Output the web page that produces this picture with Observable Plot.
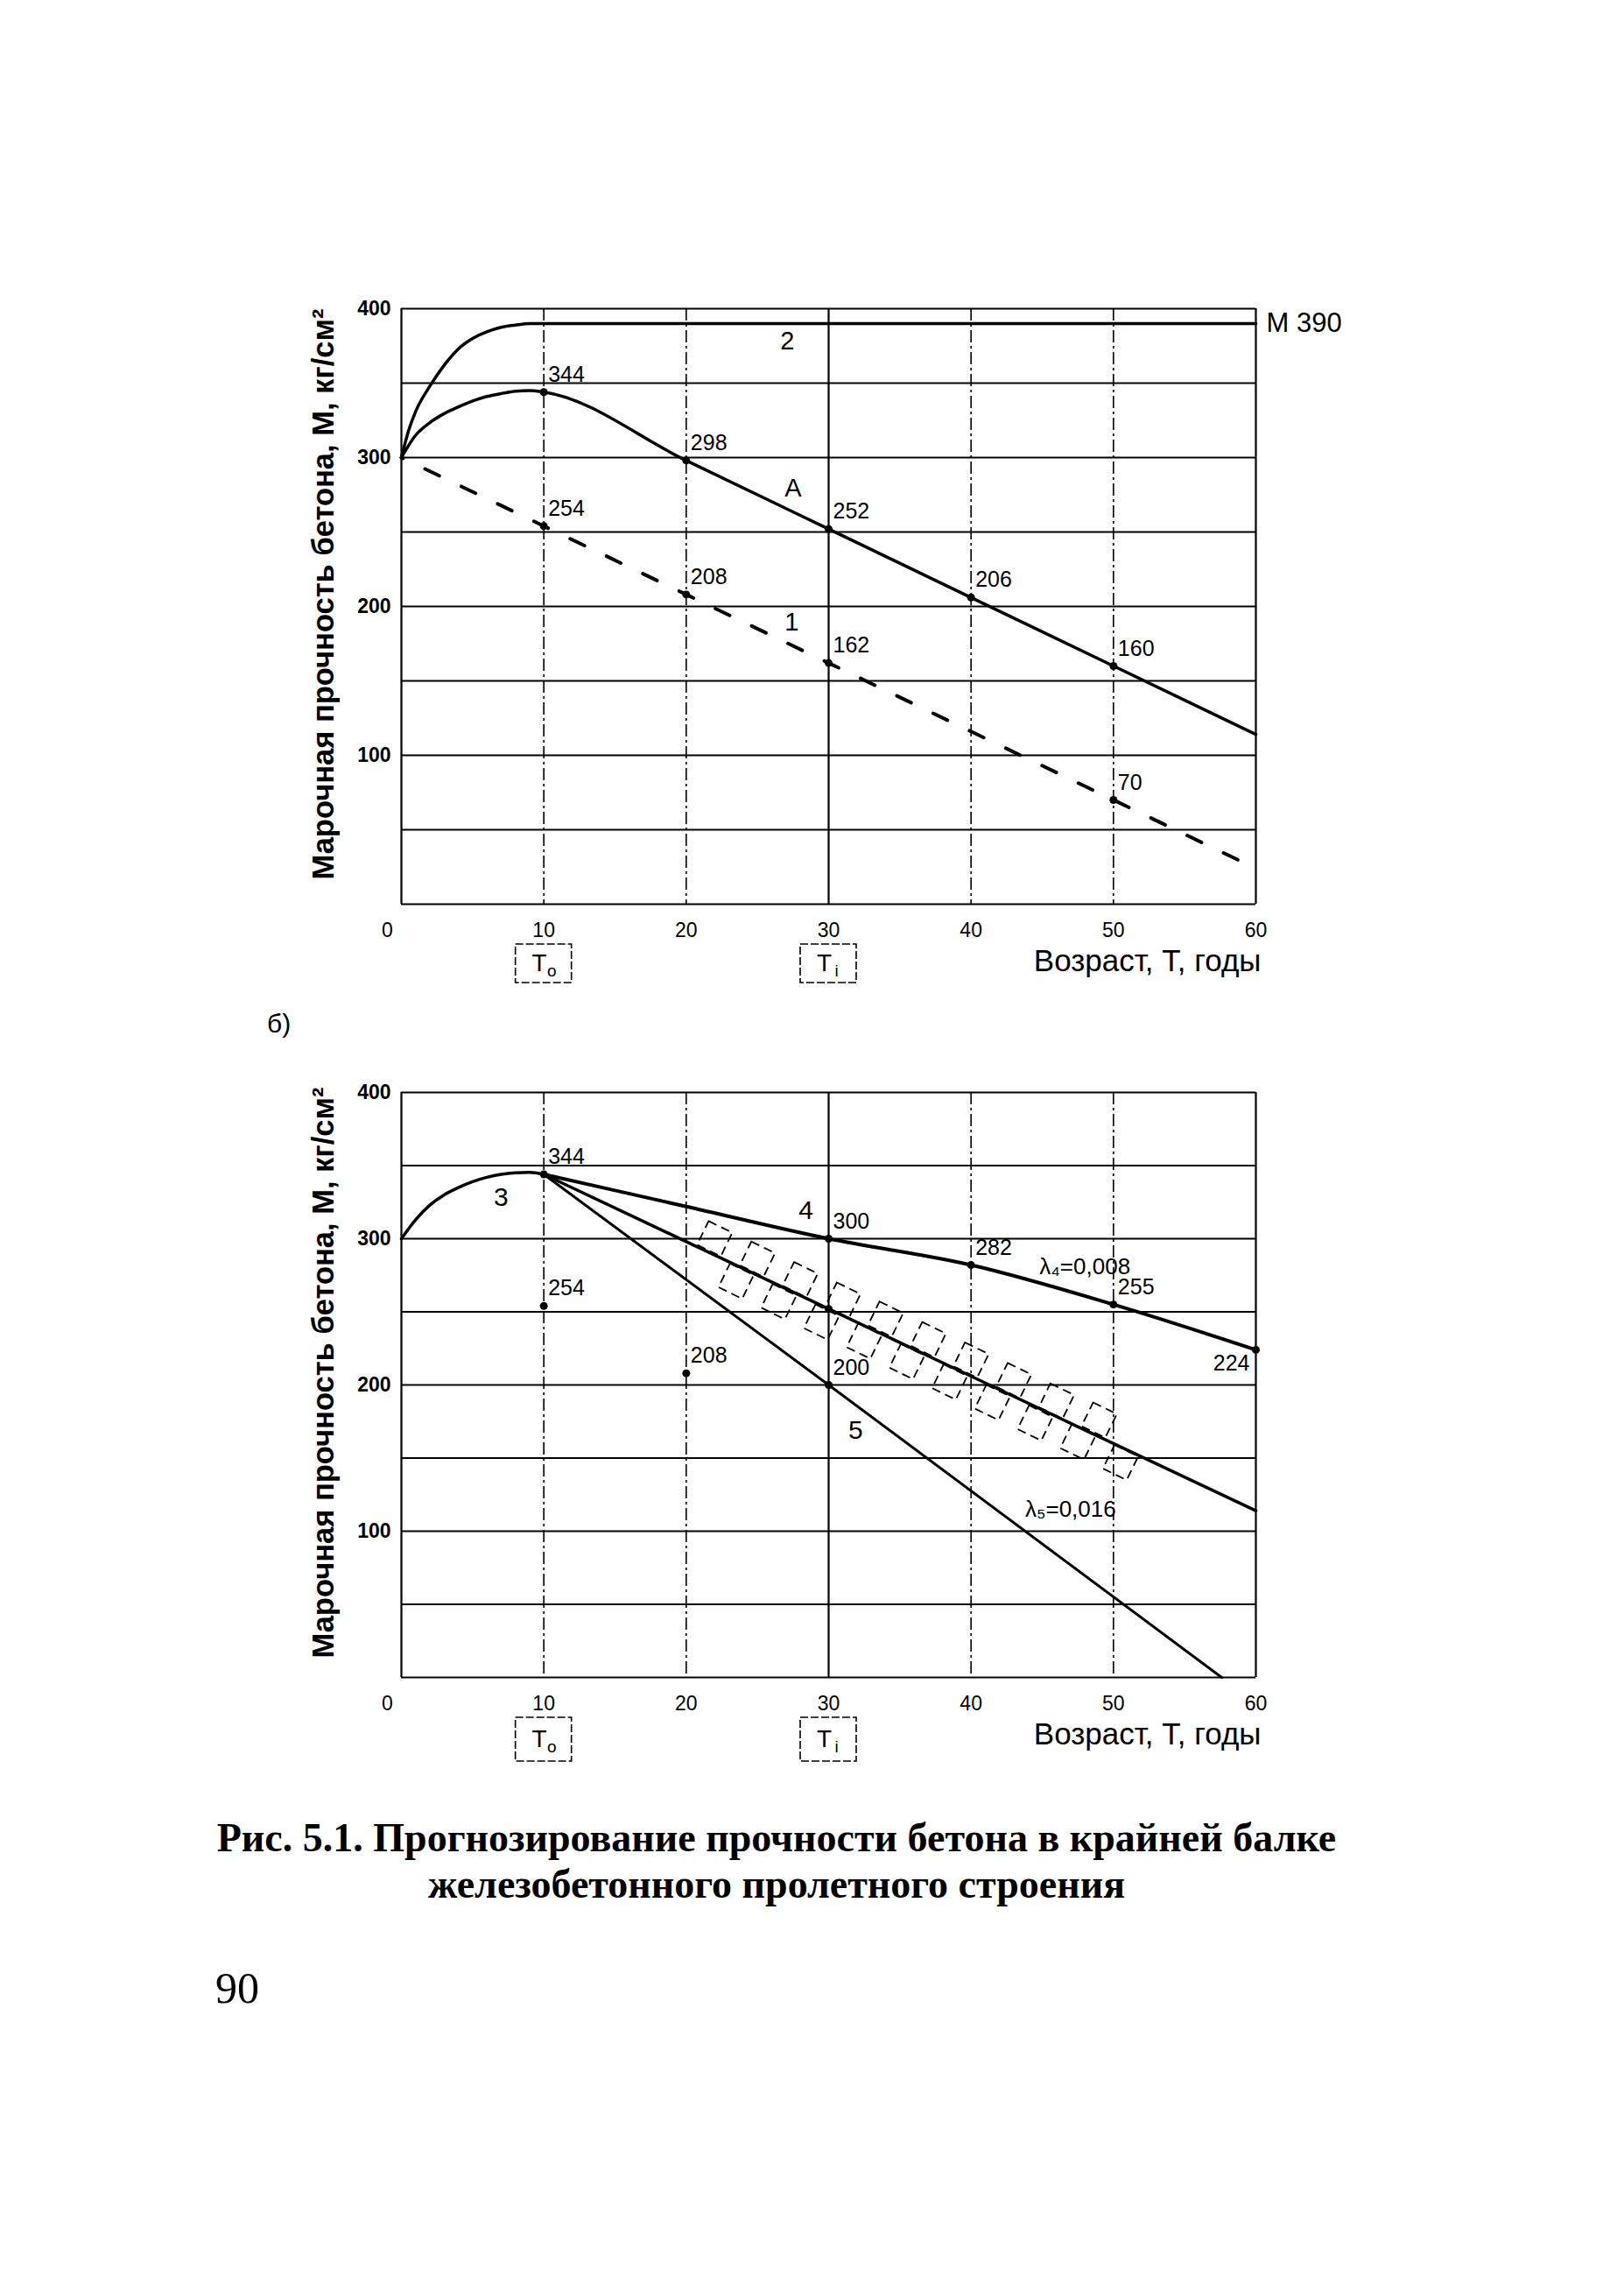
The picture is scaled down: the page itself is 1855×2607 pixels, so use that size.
<!DOCTYPE html>
<html>
<head>
<meta charset="utf-8">
<script src="https://cdn.jsdelivr.net/npm/d3@7"></script>
<script src="https://cdn.jsdelivr.net/npm/@observablehq/plot@0.6"></script>
<style>
  html, body { margin: 0; padding: 0; background: #fff; }
  #page { position: relative; width: 1855px; height: 2607px; background: #fff; overflow: hidden;
          font-family: "Liberation Sans", Arial, sans-serif; color: #000; }
  .abs { position: absolute; }
  #chartA { left: 250px; top: 300px; }
  #chartB { left: 250px; top: 1200px; }
  #subB { left: 305px; top: 1154px; font-size: 30px; line-height: 30px; }
  #caption { left: 0; width: 1774px; top: 2072px; text-align: center;
             font-family: "Liberation Serif", "Times New Roman", serif; font-weight: bold;
             font-size: 46px; line-height: 53px; }
  #pageNo { left: 246px; top: 2245px; font-family: "Liberation Serif", "Times New Roman", serif;
            font-size: 50px; line-height: 50px; }
</style>
</head>
<body>
<div id="page">
  <div id="chartA" class="abs"></div>
  <div id="subB" class="abs">б)</div>
  <div id="chartB" class="abs"></div>
  <div id="caption" class="abs">Рис. 5.1. Прогнозирование прочности бетона в крайней балке<br>железобетонного пролетного строения</div>
  <div id="pageNo" class="abs">90</div>
</div>
<script>
// ---------- shared axes / grid ----------
const yearTicks = [10, 20, 30, 40, 50, 60];
const originTick = [0];
const strengthTicks = [100, 200, 300, 400];
const gridM = [0, 50, 100, 150, 200, 250, 300, 350, 400];
const dashedYears = [10, 20, 40, 50];
const solidYears = [0, 30, 60];
const yTitle = "Марочная прочность бетона, М, кг/см²";
const xTitle = "Возраст, Т, годы";
const tBoxYears = [10, 30];
const tBoxSubs = ["о", "i"];

// ---------- chart а (top) ----------
const c2T = [0, 0.5, 1, 2, 3, 4, 5, 6, 7, 8, 9, 10, 60];
const c2M = [300, 318, 331, 348, 362, 373, 380, 384.5, 387.5, 389, 390, 390, 390];
const cAT = [0, 1, 2, 3, 4, 5, 6, 7, 8, 9, 10, 20, 30, 40, 50, 60];
const cAM = [300, 315, 323.5, 329.5, 334, 338, 341, 343, 344.5, 345, 344, 298, 252, 206, 160, 114];
const c1T = [0, 10, 20, 30, 40, 50, 60];
const c1M = [300, 254, 208, 162, 116, 70, 24];
const ptsAT = [10, 20, 30, 40, 50, 10, 20, 30, 50];
const ptsAM = [344, 298, 252, 206, 160, 254, 208, 162, 70];
const curveLblA = ["2", "А", "1"];
const curveLblAT = [27.1, 27.5, 27.4];
const curveLblAM = [378, 279, 189];
const gradeLbl = "М 390";
const gradeT = 60;
const gradeM = 390;

// ---------- chart б (bottom) ----------
const c3T = [0, 1, 2, 3, 4, 5, 6, 7, 8, 9, 10];
const c3M = [300, 313, 323, 330, 335, 339, 342, 344, 345, 345.3, 344];
const c4T = [10, 20, 30, 40, 50, 60];
const c4M = [344, 322, 300, 282, 255, 224];
const cMidT = [10, 20, 30, 40, 50, 60];
const cMidM = [344, 298, 252, 206, 160, 114];
const c5T = [10, 30, 57.6];
const c5M = [344, 200, 0];
const ptsBT = [10, 30, 40, 50, 10, 20, 30];
const ptsBM = [344, 300, 282, 255, 254, 208, 200];
const extraPtsBT = [30];
const extraPtsBM = [252];
const endPtT = [60];
const endPtM = [224];
const curveLblB = ["3", "4", "5"];
const curveLblBT = [7, 28.4, 31.9];
const curveLblBM = [328, 319, 169];
const lambdaLbl = ["λ₄=0,008", "λ₅=0,016"];
const lambdaT = [44.8, 43.8];
const lambdaM = [281, 115];
// hatched band cells along the middle line
const bandT = [22, 25, 28, 31, 34, 37, 40, 43, 46, 49, 23.5, 26.5, 29.5, 32.5, 35.5, 38.5, 41.5, 44.5, 47.5, 50.5];
const bandM = [300, 286, 272, 258, 245, 231, 217, 203, 189, 176, 271, 257, 243, 230, 216, 202, 188, 174, 161, 147];

const K = "#000";
const FW = 976; // frame width px

function idx(a) { return d3.range(a.length); }

function frameMarks(ppu, boxBottomPx) {
  const boxHalf = 32 / (FW / 60);
  const yTop = -46 / ppu, yBot = -boxBottomPx / ppu, yMid = (yTop + yBot) / 2;
  return [
    Plot.ruleY(gridM, {stroke: K, strokeWidth: 2.2}),
    Plot.ruleX(dashedYears, {stroke: K, strokeWidth: 1.6, strokeDasharray: "14,4,3,4"}),
    Plot.ruleX(solidYears, {stroke: K, strokeWidth: 2.2}),
    Plot.axisY(strengthTicks, {tickSize: 0, tickPadding: 12, fontSize: 23, fontWeight: "bold", label: null}),
    Plot.axisX(yearTicks, {tickSize: 0, tickPadding: 21, fontSize: 23, label: null}),
    Plot.axisX(originTick, {tickSize: 0, tickPadding: 21, fontSize: 23, dx: -16, label: null}),
    Plot.text([yTitle], {text: d => d, frameAnchor: "left", textAnchor: "middle", rotate: -90,
                         dx: -89, dy: -14, fontSize: 34.5, fontWeight: "bold"}),
    Plot.text([xTitle], {text: d => d, frameAnchor: "bottom-right", textAnchor: "end",
                         dx: 6, dy: 76, fontSize: 35}),
    Plot.rect(tBoxYears, {x1: d => d - boxHalf, x2: d => d + boxHalf, y1: () => yTop, y2: () => yBot,
                          fill: "none", stroke: K, strokeWidth: 1.6, strokeDasharray: "9,3"}),
    Plot.text(tBoxYears, {x: d => d, y: () => yMid, text: () => "T", dx: -5, fontSize: 28}),
    Plot.text(tBoxYears, {x: d => d, y: () => yMid, text: (d, i) => tBoxSubs[i], dx: 9, dy: 8, fontSize: 19})
  ];
}

const common = {
  width: 1354,
  marginLeft: 208, marginRight: 170, marginBottom: 110,
  x: {domain: [0, 60], axis: null},
  y: {domain: [0, 400], axis: null},
  style: {fontFamily: "'Liberation Sans', Arial, sans-serif", color: "#000", background: "transparent", overflow: "visible"}
};

// ---------- draw chart а ----------
const chartA = Plot.plot({
  ...common,
  height: 842, marginTop: 52,
  marks: [
    ...frameMarks(680 / 400, 90),
    Plot.line(idx(c2T), {x: i => c2T[i], y: i => c2M[i], curve: "monotone-x", stroke: K, strokeWidth: 3.5}),
    Plot.line(idx(cAT), {x: i => cAT[i], y: i => cAM[i], curve: "monotone-x", stroke: K, strokeWidth: 3.5}),
    Plot.line(idx(c1T), {x: i => c1T[i], y: i => c1M[i], stroke: K, strokeWidth: 4,
                         strokeDasharray: "18,28", strokeDashoffset: -30}),
    Plot.dot(idx(ptsAT), {x: i => ptsAT[i], y: i => ptsAM[i], r: 4.5, fill: K}),
    Plot.text(idx(ptsAT), {x: i => ptsAT[i], y: i => ptsAM[i], text: i => String(ptsAM[i]),
                           dx: 5, dy: -20, textAnchor: "start", fontSize: 25}),
    Plot.text(idx(curveLblA), {x: i => curveLblAT[i], y: i => curveLblAM[i], text: i => curveLblA[i], fontSize: 29}),
    Plot.text([gradeLbl], {x: () => gradeT, y: () => gradeM, text: d => d, dx: 12, textAnchor: "start", fontSize: 31})
  ]
});
document.getElementById("chartA").append(chartA);

// ---------- draw chart б ----------
const chartB = Plot.plot({
  ...common,
  height: 825, marginTop: 47,
  marks: [
    ...frameMarks(668 / 400, 96),
    Plot.dot(idx(bandT), {x: i => bandT[i], y: i => bandM[i], symbol: "square", r: 17, rotate: 26,
                          fill: "none", stroke: K, strokeWidth: 1.8, strokeDasharray: "10,6"}),
    Plot.line(idx(c3T), {x: i => c3T[i], y: i => c3M[i], curve: "monotone-x", stroke: K, strokeWidth: 3.5}),
    Plot.line(idx(c4T), {x: i => c4T[i], y: i => c4M[i], curve: "monotone-x", stroke: K, strokeWidth: 4}),
    Plot.line(idx(cMidT), {x: i => cMidT[i], y: i => cMidM[i], stroke: K, strokeWidth: 3.5}),
    Plot.line(idx(c5T), {x: i => c5T[i], y: i => c5M[i], stroke: K, strokeWidth: 3}),
    Plot.dot(idx(ptsBT), {x: i => ptsBT[i], y: i => ptsBM[i], r: 4.5, fill: K}),
    Plot.dot(idx(extraPtsBT), {x: i => extraPtsBT[i], y: i => extraPtsBM[i], r: 4.5, fill: K}),
    Plot.dot(idx(endPtT), {x: i => endPtT[i], y: i => endPtM[i], r: 4.5, fill: K}),
    Plot.text(idx(ptsBT), {x: i => ptsBT[i], y: i => ptsBM[i], text: i => String(ptsBM[i]),
                           dx: 5, dy: -20, textAnchor: "start", fontSize: 25}),
    Plot.text(idx(endPtT), {x: i => endPtT[i], y: i => endPtM[i], text: i => String(endPtM[i]),
                            dx: -7, dy: 16, textAnchor: "end", fontSize: 25}),
    Plot.text(idx(curveLblB), {x: i => curveLblBT[i], y: i => curveLblBM[i], text: i => curveLblB[i], fontSize: 30}),
    Plot.text(idx(lambdaLbl), {x: i => lambdaT[i], y: i => lambdaM[i], text: i => lambdaLbl[i],
                               textAnchor: "start", fontSize: 26})
  ]
});
document.getElementById("chartB").append(chartB);
</script>
</body>
</html>
